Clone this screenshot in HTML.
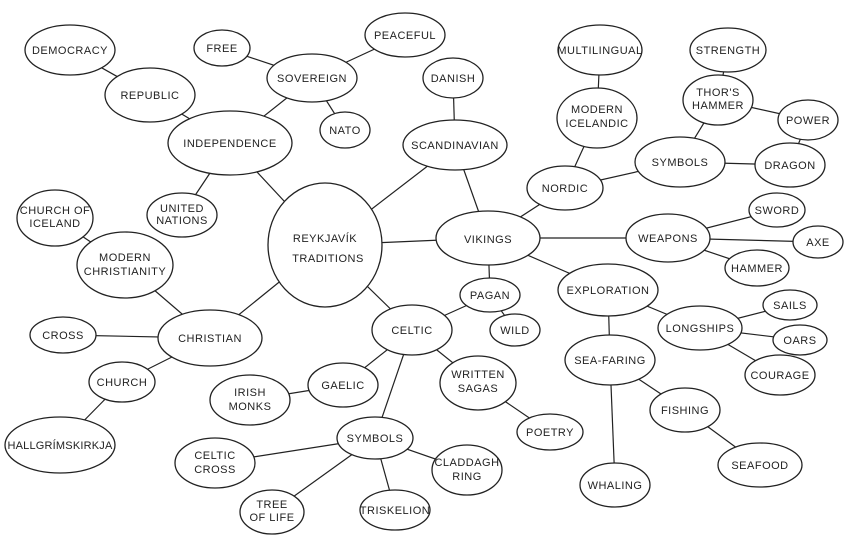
<!DOCTYPE html>
<html><head><meta charset="utf-8"><style>
html,body{margin:0;padding:0;background:#fff;}
svg{display:block;}
text{font-family:"Liberation Sans",sans-serif;font-size:11px;fill:#222;text-anchor:middle;letter-spacing:0.5px;}
ellipse{fill:#fff;stroke:#222;stroke-width:1.3;}
line{stroke:#222;stroke-width:1.2;}
</style></head><body>
<svg width="850" height="555" viewBox="0 0 850 555" xmlns="http://www.w3.org/2000/svg">
<g>
<line x1="325" y1="245" x2="230" y2="143"/>
<line x1="325" y1="245" x2="455" y2="145"/>
<line x1="325" y1="245" x2="488" y2="238"/>
<line x1="325" y1="245" x2="412" y2="330"/>
<line x1="325" y1="245" x2="210" y2="338"/>
<line x1="230" y1="143" x2="150" y2="95"/>
<line x1="150" y1="95" x2="70" y2="50"/>
<line x1="230" y1="143" x2="312" y2="78"/>
<line x1="312" y1="78" x2="222" y2="48"/>
<line x1="312" y1="78" x2="405" y2="35"/>
<line x1="312" y1="78" x2="345" y2="130"/>
<line x1="230" y1="143" x2="182" y2="215"/>
<line x1="455" y1="145" x2="453" y2="78"/>
<line x1="455" y1="145" x2="488" y2="238"/>
<line x1="488" y1="238" x2="565" y2="188"/>
<line x1="565" y1="188" x2="597" y2="118"/>
<line x1="597" y1="118" x2="600" y2="50"/>
<line x1="565" y1="188" x2="680" y2="162"/>
<line x1="680" y1="162" x2="718" y2="100"/>
<line x1="718" y1="100" x2="728" y2="50"/>
<line x1="718" y1="100" x2="808" y2="120"/>
<line x1="680" y1="162" x2="790" y2="165"/>
<line x1="808" y1="120" x2="790" y2="165"/>
<line x1="488" y1="238" x2="668" y2="238"/>
<line x1="668" y1="238" x2="777" y2="210"/>
<line x1="668" y1="238" x2="818" y2="242"/>
<line x1="668" y1="238" x2="757" y2="268"/>
<line x1="488" y1="238" x2="608" y2="290"/>
<line x1="608" y1="290" x2="700" y2="328"/>
<line x1="700" y1="328" x2="790" y2="305"/>
<line x1="700" y1="328" x2="800" y2="340"/>
<line x1="700" y1="328" x2="780" y2="375"/>
<line x1="608" y1="290" x2="610" y2="360"/>
<line x1="610" y1="360" x2="685" y2="410"/>
<line x1="685" y1="410" x2="760" y2="465"/>
<line x1="610" y1="360" x2="615" y2="485"/>
<line x1="488" y1="238" x2="490" y2="295"/>
<line x1="490" y1="295" x2="515" y2="330"/>
<line x1="490" y1="295" x2="412" y2="330"/>
<line x1="412" y1="330" x2="478" y2="383"/>
<line x1="478" y1="383" x2="550" y2="432"/>
<line x1="412" y1="330" x2="343" y2="385"/>
<line x1="343" y1="385" x2="250" y2="400"/>
<line x1="412" y1="330" x2="375" y2="438"/>
<line x1="375" y1="438" x2="215" y2="463"/>
<line x1="375" y1="438" x2="467" y2="470"/>
<line x1="375" y1="438" x2="395" y2="510"/>
<line x1="375" y1="438" x2="272" y2="512"/>
<line x1="210" y1="338" x2="125" y2="265"/>
<line x1="125" y1="265" x2="55" y2="218"/>
<line x1="210" y1="338" x2="63" y2="335"/>
<line x1="210" y1="338" x2="122" y2="382"/>
<line x1="122" y1="382" x2="60" y2="445"/>
</g>
<g>
<ellipse cx="325" cy="245" rx="57" ry="62"/><text x="325" y="242" font-size="13">REYKJAVÍK</text><text x="328" y="262" font-size="13">TRADITIONS</text>
<ellipse cx="230" cy="143" rx="62" ry="32"/><text x="230" y="147" font-size="12">INDEPENDENCE</text>
<ellipse cx="150" cy="95" rx="45" ry="27"/><text x="150" y="99" font-size="12">REPUBLIC</text>
<ellipse cx="70" cy="50" rx="45" ry="25"/><text x="70" y="54">DEMOCRACY</text>
<ellipse cx="312" cy="78" rx="45" ry="24"/><text x="312" y="82">SOVEREIGN</text>
<ellipse cx="222" cy="48" rx="28" ry="18"/><text x="222" y="52">FREE</text>
<ellipse cx="405" cy="35" rx="40" ry="22"/><text x="405" y="39">PEACEFUL</text>
<ellipse cx="345" cy="130" rx="25" ry="18"/><text x="345" y="134">NATO</text>
<ellipse cx="182" cy="215" rx="35" ry="22"/><text x="182" y="212" font-size="9">UNITED</text><text x="182" y="224" font-size="9">NATIONS</text>
<ellipse cx="453" cy="78" rx="30" ry="20"/><text x="453" y="82">DANISH</text>
<ellipse cx="455" cy="145" rx="52" ry="25"/><text x="455" y="149">SCANDINAVIAN</text>
<ellipse cx="488" cy="238" rx="52" ry="27"/><text x="488" y="243" font-size="14">VIKINGS</text>
<ellipse cx="565" cy="188" rx="38" ry="22"/><text x="565" y="192">NORDIC</text>
<ellipse cx="597" cy="118" rx="40" ry="30"/><text x="597" y="113">MODERN</text><text x="597" y="127">ICELANDIC</text>
<ellipse cx="600" cy="50" rx="42" ry="25"/><text x="600" y="54">MULTILINGUAL</text>
<ellipse cx="728" cy="50" rx="38" ry="22"/><text x="728" y="54">STRENGTH</text>
<ellipse cx="718" cy="100" rx="35" ry="25"/><text x="718" y="96" font-size="10">THOR'S</text><text x="718" y="109" font-size="10">HAMMER</text>
<ellipse cx="808" cy="120" rx="30" ry="20"/><text x="808" y="124">POWER</text>
<ellipse cx="680" cy="162" rx="45" ry="25"/><text x="680" y="166">SYMBOLS</text>
<ellipse cx="790" cy="165" rx="35" ry="22"/><text x="790" y="169">DRAGON</text>
<ellipse cx="668" cy="238" rx="42" ry="24"/><text x="668" y="242">WEAPONS</text>
<ellipse cx="777" cy="210" rx="28" ry="17"/><text x="777" y="214">SWORD</text>
<ellipse cx="818" cy="242" rx="25" ry="16"/><text x="818" y="246">AXE</text>
<ellipse cx="757" cy="268" rx="32" ry="18"/><text x="757" y="272">HAMMER</text>
<ellipse cx="608" cy="290" rx="50" ry="26"/><text x="608" y="294">EXPLORATION</text>
<ellipse cx="700" cy="328" rx="42" ry="22"/><text x="700" y="332">LONGSHIPS</text>
<ellipse cx="790" cy="305" rx="27" ry="15"/><text x="790" y="309">SAILS</text>
<ellipse cx="800" cy="340" rx="27" ry="15"/><text x="800" y="344">OARS</text>
<ellipse cx="780" cy="375" rx="35" ry="20"/><text x="780" y="379">COURAGE</text>
<ellipse cx="610" cy="360" rx="45" ry="25"/><text x="610" y="364">SEA-FARING</text>
<ellipse cx="685" cy="410" rx="35" ry="22"/><text x="685" y="414">FISHING</text>
<ellipse cx="760" cy="465" rx="42" ry="22"/><text x="760" y="469">SEAFOOD</text>
<ellipse cx="615" cy="485" rx="35" ry="22"/><text x="615" y="489">WHALING</text>
<ellipse cx="490" cy="295" rx="30" ry="17"/><text x="490" y="299">PAGAN</text>
<ellipse cx="515" cy="330" rx="25" ry="16"/><text x="515" y="334">WILD</text>
<ellipse cx="412" cy="330" rx="40" ry="25"/><text x="412" y="334" font-size="12">CELTIC</text>
<ellipse cx="478" cy="383" rx="38" ry="27"/><text x="478" y="378">WRITTEN</text><text x="478" y="392">SAGAS</text>
<ellipse cx="550" cy="432" rx="33" ry="18"/><text x="550" y="436">POETRY</text>
<ellipse cx="343" cy="385" rx="35" ry="22"/><text x="343" y="389">GAELIC</text>
<ellipse cx="250" cy="400" rx="40" ry="25"/><text x="250" y="396">IRISH</text><text x="250" y="410">MONKS</text>
<ellipse cx="375" cy="438" rx="38" ry="21"/><text x="375" y="442">SYMBOLS</text>
<ellipse cx="215" cy="463" rx="40" ry="25"/><text x="215" y="459">CELTIC</text><text x="215" y="473">CROSS</text>
<ellipse cx="467" cy="470" rx="35" ry="25"/><text x="467" y="466">CLADDAGH</text><text x="467" y="480">RING</text>
<ellipse cx="395" cy="510" rx="35" ry="20"/><text x="395" y="514">TRISKELION</text>
<ellipse cx="272" cy="512" rx="32" ry="22"/><text x="272" y="508" font-size="10">TREE</text><text x="272" y="521" font-size="10">OF LIFE</text>
<ellipse cx="210" cy="338" rx="52" ry="28"/><text x="210" y="342" font-size="12">CHRISTIAN</text>
<ellipse cx="125" cy="265" rx="48" ry="33"/><text x="125" y="261">MODERN</text><text x="125" y="275">CHRISTIANITY</text>
<ellipse cx="55" cy="218" rx="38" ry="28"/><text x="55" y="214" font-size="10">CHURCH OF</text><text x="55" y="227" font-size="10">ICELAND</text>
<ellipse cx="63" cy="335" rx="33" ry="18"/><text x="63" y="339">CROSS</text>
<ellipse cx="122" cy="382" rx="33" ry="20"/><text x="122" y="386">CHURCH</text>
<ellipse cx="60" cy="445" rx="55" ry="28"/><text x="60" y="449" font-size="10" style="letter-spacing:0.2px">HALLGRÍMSKIRKJA</text>
</g>
</svg>
</body></html>
